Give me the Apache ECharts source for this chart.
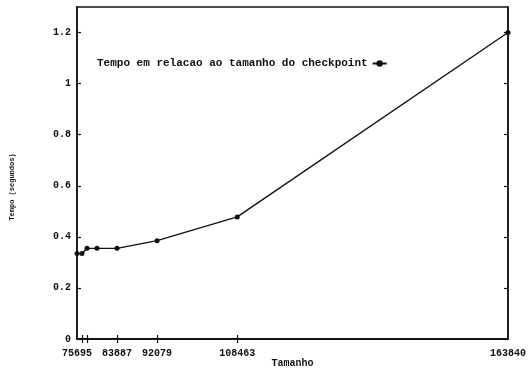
<!DOCTYPE html>
<html>
<head>
<meta charset="utf-8">
<script src="https://cdn.jsdelivr.net/npm/echarts@6/dist/echarts.min.js"></script>
<style>html,body{margin:0;padding:0;background:#fff;}#c{width:528px;height:370px;}</style>
</head>
<body>
<div id="c"></div>
<script>
const seriesName = 'Tempo em relacao ao tamanho do checkpoint';
const tamanho = [75695, 76719, 77743, 79791, 83887, 92079, 108463, 163840];
const tempo = [0.335, 0.335, 0.355, 0.355, 0.355, 0.385, 0.478, 1.2];
const xTickLabels = [75695, 83887, 92079, 108463, 163840];
const xTickMarks = [76719, 77743, 83887, 92079, 108463];
const yTicks = [0, 0.2, 0.4, 0.6, 0.8, 1, 1.2];

const font = 'Liberation Mono';
const chart = echarts.init(document.getElementById('c'), null, {renderer: 'canvas'});
const axisLine = {show: true, lineStyle: {color: '#111', width: 1.5}};
chart.setOption({
  animation: false,
  backgroundColor: '#fff',
  grid: {left: 77, right: 20, top: 7, bottom: 31, show: true, borderColor: '#111', borderWidth: 1.5, containLabel: false, outerBoundsMode: 'none'},
  legend: {
    show: true, left: 92, top: 53, align: 'right', itemWidth: 14, itemHeight: 8, itemGap: 4,
    textStyle: {fontFamily: font, fontWeight: 'bold', fontSize: 11, color: '#111'},
    data: [seriesName]
  },
  xAxis: [{
    type: 'value', min: 75695, max: 163840, position: 'bottom',
    name: 'Tamanho', nameLocation: 'middle', nameGap: 19, nameMoveOverlap: false,
    nameTextStyle: {fontFamily: font, fontWeight: 'bold', fontSize: 10, color: '#111'},
    axisLine: axisLine,
    axisTick: {show: true, inside: true, length: 4, customValues: xTickMarks, lineStyle: {color: '#111', width: 1.2}},
    axisLabel: {show: true, margin: 9, customValues: xTickLabels, formatter: v => String(v), fontFamily: font, fontWeight: 'bold', fontSize: 10, color: '#111'},
    splitLine: {show: false}
  }, {
    type: 'value', min: 75695, max: 163840, position: 'top',
    axisLine: axisLine,
    axisTick: {show: true, inside: true, length: 4, customValues: xTickMarks, lineStyle: {color: '#111', width: 1.2}},
    axisLabel: {show: false},
    splitLine: {show: false}
  }],
  yAxis: [{
    type: 'value', min: 0, max: 1.3, interval: 0.2,
    name: 'Tempo (segundos)', nameLocation: 'middle', nameGap: 61, nameRotate: 90, nameMoveOverlap: false,
    nameTextStyle: {fontFamily: font, fontWeight: 'bold', fontSize: 7, color: '#111', padding: [0, 28, 0, 0]},
    axisLine: axisLine,
    axisTick: {show: true, inside: true, length: 4, customValues: yTicks, lineStyle: {color: '#111', width: 1.2}},
    axisLabel: {show: true, margin: 6, customValues: yTicks, fontFamily: font, fontWeight: 'bold', fontSize: 10, color: '#111'},
    splitLine: {show: false}
  }, {
    type: 'value', min: 0, max: 1.3, interval: 0.2, position: 'right',
    axisLine: axisLine,
    axisTick: {show: true, inside: true, length: 4, customValues: yTicks, lineStyle: {color: '#111', width: 1.2}},
    axisLabel: {show: false},
    splitLine: {show: false}
  }],
  series: [{
    name: seriesName, type: 'line',
    data: tamanho.map((x, i) => [x, tempo[i]]),
    symbol: 'circle', symbolSize: 5, showSymbol: true,
    lineStyle: {color: '#111', width: 1.4},
    itemStyle: {color: '#111'}
  }]
});
</script>
</body>
</html>
